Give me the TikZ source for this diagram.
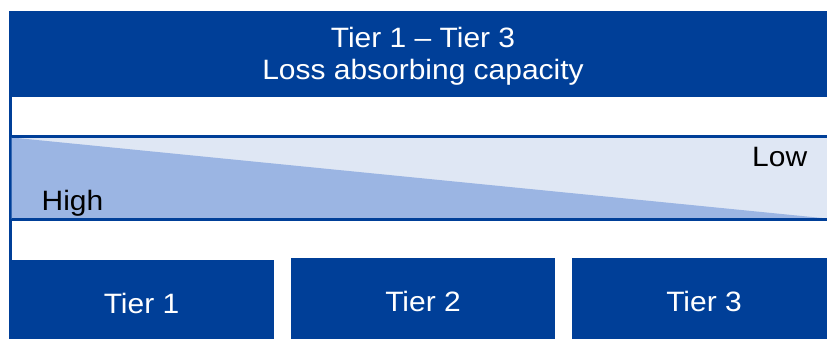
\documentclass[tikz,border=0pt]{standalone}
\usepackage{fontspec}
\setmainfont{Liberation Sans}
\definecolor{dblue}{HTML}{003F98}
\definecolor{lband}{HTML}{DFE7F4}
\definecolor{mband}{HTML}{9BB5E3}
\begin{document}
\begin{tikzpicture}[x=1pt,y=-1pt,
  txt/.style={font=\fontsize{28}{31.5}\selectfont,xscale=1.07,transform shape},
  wtxt/.style={txt,text=white},
  lbl/.style={txt,text=black,inner sep=0pt,anchor=base west}]
\useasboundingbox (0,0) rectangle (827,338);
% outer left border
\fill[dblue] (9,11) rectangle (11.6,338);
% top bar
\fill[dblue] (9,11) rectangle (840,96.5);
\node[wtxt,align=center] (title) at (423,56.5)
  {Tier 1 -- Tier 3\\Loss absorbing capacity};
% band
\fill[lband] (11.6,137.5) rectangle (840,218.5);
\fill[mband] (11.6,137.5) -- (827,218.5) -- (11.6,218.5) -- cycle;
\fill[dblue] (11.6,135.3) rectangle (840,138);
\fill[dblue] (11.6,218.3) rectangle (840,221);
\node[lbl] (high) at (41.5,210) {High};
\node[lbl] (low) at (752,166) {Low};
% tier boxes
\fill[dblue] (9,260) rectangle (274,340);
\fill[dblue] (290.6,258) rectangle (555,340);
\fill[dblue] (572,258) rectangle (840,340);
\node[wtxt] (t1) at (141.5,303) {Tier 1};
\node[wtxt] (t2) at (423,301) {Tier 2};
\node[wtxt] (t3) at (704,301) {Tier 3};
\end{tikzpicture}
\end{document}
